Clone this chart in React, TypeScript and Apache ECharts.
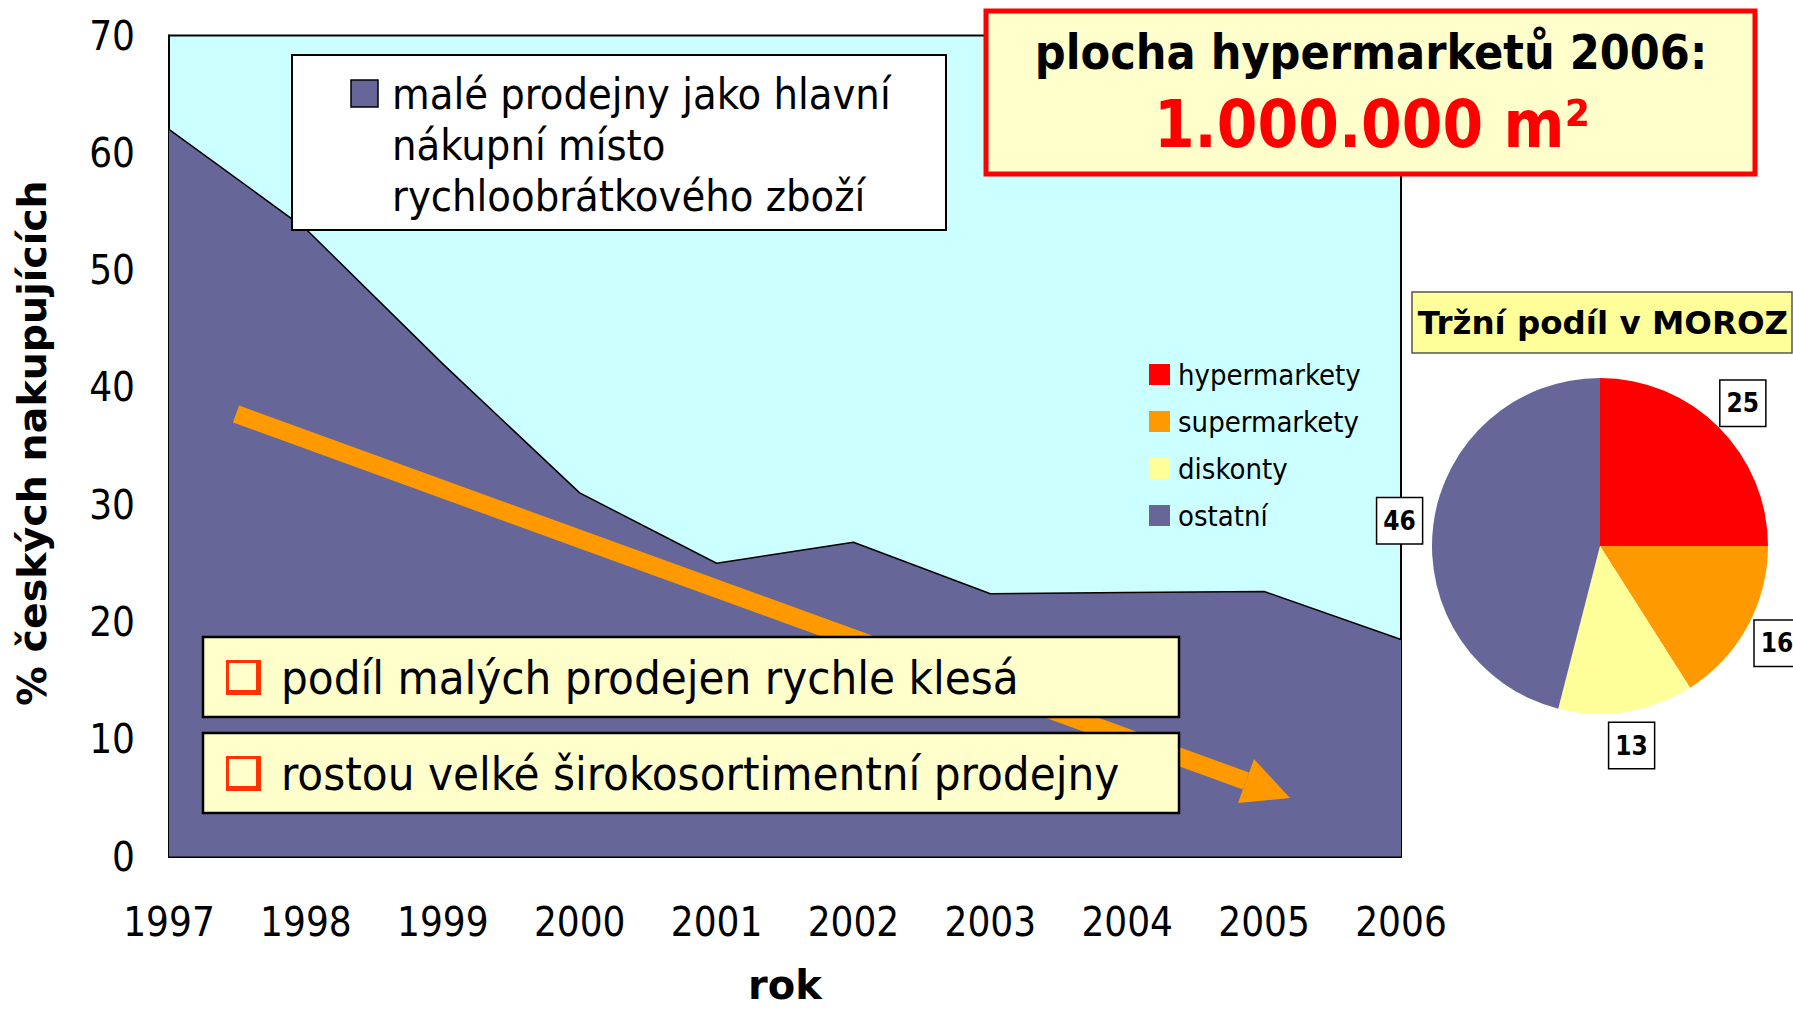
import React, { useEffect, useRef } from "react";
import * as echarts from "echarts";

const years = ["1997", "1998", "1999", "2000", "2001", "2002", "2003", "2004", "2005", "2006"];
const smallShopShare = [62, 53.5, 42, 31, 25, 26.8, 22.4, 22.5, 22.6, 18.5];
const smallShopLegend = ["malé prodejny jako hlavní", "nákupní místo", "rychloobrátkového zboží"];

const marketNames = ["hypermarkety", "supermarkety", "diskonty", "ostatní"];
const marketShares = [25, 16, 13, 46];
const marketColors = ["#FF0000", "#FF9900", "#FFFF99", "#666699"];

const yMin = 0;
const yMax = 70;
const yInterval = 10;

const bulletTexts = ["podíl malých prodejen rychle klesá", "rostou velké širokosortimentní prodejny"];
const headline = "plocha hypermarketů 2006:";
const headlineValue = "1.000.000 m²";
const pieTitle = "Tržní podíl v MOROZ";

const F = '"DejaVu Sans Condensed", "DejaVu Sans", sans-serif';
const FW = '"DejaVu Sans", sans-serif';

const PIE_C = [1600, 546];
const PIE_R = 168;

export default function App() {
  const ref = useRef<HTMLDivElement>(null);

  useEffect(() => {
    if (!ref.current) return;
    const chart = echarts.init(ref.current, undefined, { renderer: "svg" });
    const total = marketShares.reduce((a, b) => a + b, 0);
    const cum: number[] = [];
    let acc = 0;
    marketShares.forEach((v) => {
      cum.push(acc + v / 2);
      acc += v;
    });

    const graphic: any[] = [];
    // arrow
    graphic.push({
      type: "polyline",
      z: 10,
      shape: { points: [[236, 414], [1246, 781]] },
      style: { stroke: "#FF9900", lineWidth: 18, fill: null },
    });
    graphic.push({
      type: "polygon",
      z: 10,
      shape: { points: [[1254, 759], [1290, 798], [1238, 803]] },
      style: { fill: "#FF9900" },
    });
    // area legend box
    graphic.push({
      type: "rect",
      z: 20,
      shape: { x: 292, y: 55, width: 654, height: 175 },
      style: { fill: "#FFFFFF", stroke: "#000", lineWidth: 2 },
    });
    graphic.push({
      type: "rect",
      z: 21,
      shape: { x: 351, y: 80, width: 27, height: 27 },
      style: { fill: "#666699", stroke: "#000", lineWidth: 1.5 },
    });
    smallShopLegend.forEach((t, i) => {
      graphic.push({
        type: "text",
        z: 21,
        style: {
          text: t, x: 392, y: 94 + i * 51, fill: "#000",
          fontSize: 43, fontFamily: F, textAlign: "left", textVerticalAlign: "middle",
        },
      });
    });
    // bullet boxes
    bulletTexts.forEach((t, i) => {
      const top = 637 + i * 96;
      graphic.push({
        type: "rect", z: 20,
        shape: { x: 203, y: top, width: 976, height: 80 },
        style: { fill: "#FFFFCC", stroke: "#000", lineWidth: 2.5 },
      });
      graphic.push({
        type: "rect", z: 21,
        shape: { x: 226, y: top + 23, width: 35, height: 35 },
        style: { fill: "#FF3300" },
      });
      graphic.push({
        type: "rect", z: 22,
        shape: { x: 229, y: top + 26, width: 27, height: 27 },
        style: { fill: "#FFFFCC" },
      });
      graphic.push({
        type: "text", z: 22,
        style: {
          text: t, x: 281, y: top + 40, fill: "#000",
          fontSize: 47, fontFamily: F, textAlign: "left", textVerticalAlign: "middle",
        },
      });
    });
    // headline box
    graphic.push({
      type: "rect", z: 30,
      shape: { x: 986, y: 11, width: 769, height: 163 },
      style: { fill: "#FFFFCC", stroke: "#FF0000", lineWidth: 5 },
    });
    graphic.push({
      type: "text", z: 31,
      style: {
        text: headline, x: 1371, y: 52, fill: "#000",
        fontSize: 48, fontWeight: "bold", fontFamily: F, textAlign: "center", textVerticalAlign: "middle",
      },
    });
    graphic.push({
      type: "text", z: 31,
      style: {
        text: headlineValue, x: 1372, y: 124, fill: "#FF0000",
        fontSize: 65, fontWeight: "bold", fontFamily: F, textAlign: "center", textVerticalAlign: "middle",
      },
    });
    // pie title box
    graphic.push({
      type: "rect", z: 30,
      shape: { x: 1412, y: 292, width: 380, height: 61 },
      style: { fill: "#FFFF99", stroke: "#555", lineWidth: 1.5 },
    });
    graphic.push({
      type: "text", z: 31,
      style: {
        text: pieTitle, x: 1603, y: 323, fill: "#000",
        fontSize: 32.5, fontWeight: "bold", fontFamily: FW, textAlign: "center", textVerticalAlign: "middle",
      },
    });

    chart.setOption({
      animation: false,
      backgroundColor: "#FFFFFF",
      grid: {
        left: 169, right: 1793 - 1401, top: 35.5, bottom: 1010 - 856.5,
        outerBoundsMode: "none",
        containLabel: false,
        show: true, backgroundColor: "#CCFFFF", borderColor: "#000", borderWidth: 2,
      },
      xAxis: {
        type: "category",
        data: years,
        boundaryGap: false,
        axisLine: { show: true, lineStyle: { color: "#000", width: 2 } },
        axisTick: { show: false },
        axisLabel: { color: "#000", fontSize: 40, fontFamily: F, margin: 45 },
        splitLine: { show: false },
        name: "rok",
        nameLocation: "middle",
        nameGap: 108,
        nameTextStyle: { color: "#000", fontSize: 40, lineHeight: 40, fontWeight: "bold", fontFamily: FW },
      },
      yAxis: {
        type: "value",
        min: yMin, max: yMax, interval: yInterval,
        axisLine: { show: true, lineStyle: { color: "#000", width: 2 } },
        axisTick: { show: false },
        axisLabel: { color: "#000", fontSize: 40, fontFamily: F, margin: 34 },
        splitLine: { show: false },
        name: "% českých nakupujících",
        nameLocation: "middle",
        nameGap: 117,
        nameRotate: 90,
        nameTextStyle: {
          color: "#000", fontSize: 39.5, fontWeight: "bold", fontFamily: FW,
          padding: [0, 0, 0, 6],
        },
      },
      legend: {
        orient: "vertical",
        left: 1149, top: 360,
        padding: 0,
        itemWidth: 21, itemHeight: 21, itemGap: 18,
        icon: "rect",
        data: marketNames,
        itemStyle: { borderWidth: 0 },
        textStyle: { color: "#000", fontSize: 29, fontFamily: F, lineHeight: 29, padding: [0, 0, 0, 3] },
      },
      graphic,
      series: [
        {
          type: "line",
          name: smallShopLegend.join(" "),
          data: smallShopShare,
          symbol: "none",
          lineStyle: { color: "#000", width: 1.5 },
          areaStyle: { color: "#666699", opacity: 1 },
          z: 3,
        },
        {
          type: "pie",
          center: PIE_C,
          radius: PIE_R,
          startAngle: 90,
          clockwise: true,
          avoidLabelOverlap: false,
          data: marketNames.map((n, i) => ({
            name: n, value: marketShares[i], itemStyle: { color: marketColors[i] },
          })),
          itemStyle: { borderWidth: 0 },
          label: {
            show: true,
            position: "outside",
            formatter: "{c}",
            color: "#000",
            fontSize: 26,
            fontWeight: "bold",
            fontFamily: F,
            backgroundColor: "#FFFFFF",
            borderColor: "#000",
            borderWidth: 1.5,
            padding: [10, 6, 9, 6],
            lineHeight: 26,
          },
          labelLine: { show: false },
          labelLayout: (params: any) => {
            const i = params.dataIndex;
            const ang = (cum[i] / total) * Math.PI * 2;
            const R = 202;
            return {
              x: PIE_C[0] + R * Math.sin(ang),
              y: PIE_C[1] - R * Math.cos(ang),
              align: "center",
              verticalAlign: "middle",
            };
          },
          emphasis: { disabled: true },
        },
      ],
    });
    return () => chart.dispose();
  }, []);

  return (
    <div
      ref={ref}
      style={{ position: "absolute", left: 0, top: 0, width: 1793, height: 1010, background: "#fff" }}
    />
  );
}
